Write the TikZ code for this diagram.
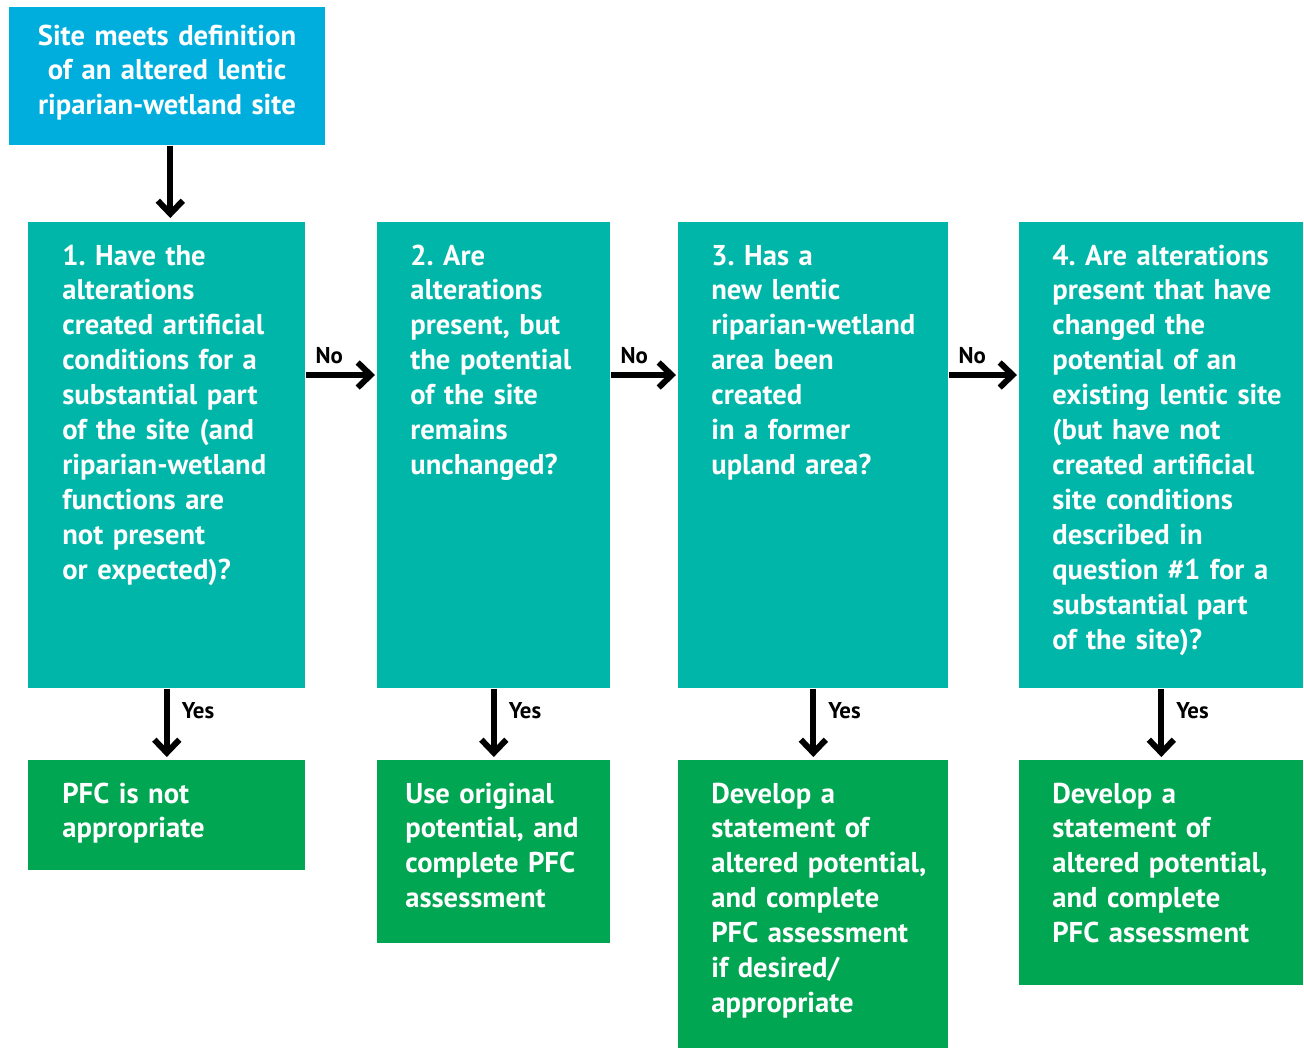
\documentclass[tikz,border=0pt]{standalone}
\usepackage{fontspec}
\setmainfont{PT Sans}
\usepackage{xcolor}
\usetikzlibrary{positioning,arrows.meta}
\definecolor{topblue}{RGB}{0,174,222}
\definecolor{qteal}{RGB}{0,182,168}
\definecolor{rgreen}{RGB}{0,166,81}
\frenchspacing

\begin{document}
\begin{tikzpicture}[x=0.02cm,y=-0.02cm]
\tikzstyle{every node}+=[inner sep=0pt]
\tikzstyle{box}=[anchor=north west, minimum width=5.54cm]
\tikzstyle{qbox}=[box, fill=qteal, minimum height=9.32cm]
\tikzstyle{rbox}=[box, fill=rgreen]
\tikzstyle{txt}=[anchor=base west, text=white, text width=6.2cm, align=left, font=\bfseries\fontsize{16.3pt}{19.9pt}\selectfont]
\tikzstyle{lbl}=[font=\bfseries\fontsize{13pt}{15pt}\selectfont, text=black]
\tikzstyle{arr}=[line width=3.4pt, -{Straight Barb[length=2.6mm,width=5mm]}]
\useasboundingbox (0,0) rectangle (1304,1049);
% boxes
\node [box, fill=topblue, minimum width=6.32cm, minimum height=2.76cm] (start) at (9,7) {};
\node [qbox] (q1) at (28,222) {};
\node [qbox, minimum width=4.66cm] (q2) at (377,222) {};
\node [qbox, minimum width=5.40cm] (q3) at (678,222) {};
\node [qbox, minimum width=5.68cm] (q4) at (1019,222) {};
\node [rbox, minimum height=2.2cm] (r1) at (28,760) {};
\node [rbox, minimum width=4.66cm, minimum height=3.66cm] (r2) at (377,760) {};
\node [rbox, minimum width=5.40cm, minimum height=5.76cm] (r3) at (678,760) {};
\node [rbox, minimum width=5.68cm, minimum height=4.5cm] (r4) at (1019,760) {};
% texts
\node [txt, anchor=base, align=center] (startt) at (167,45) {Site meets definition\\of an altered lentic\\riparian-wetland site};
\node [txt] (q1t) at (62,265) {1. Have the\\alterations\\created artificial\\conditions for a\\substantial part\\of the site (and\\riparian-wetland\\functions are\\not present\\or expected)?};
\node [txt] (q2t) at (410,265) {2. Are\\alterations\\present, but\\the potential\\of the site\\remains\\unchanged?};
\node [txt] (q3t) at (711,265) {3. Has a\\new lentic\\riparian-wetland\\area been\\created\\in a former\\upland area?};
\node [txt] (q4t) at (1052,265) {4. Are alterations\\present that have\\changed the\\potential of an\\existing lentic site\\(but have not\\created artificial\\site conditions\\described in\\question \#1 for a\\substantial part\\of the site)?};
\node [txt] (r1t) at (62,803) {PFC is not\\appropriate};
\node [txt] (r2t) at (405,803) {Use original\\potential, and\\complete PFC\\assessment};
\node [txt] (r3t) at (711,803) {Develop a\\statement of\\altered potential,\\and complete\\PFC assessment\\if desired/\\appropriate};
\node [txt] (r4t) at (1052,803) {Develop a\\statement of\\altered potential,\\and complete\\PFC assessment};
% arrows
\coordinate (nol) at (0,375);
\draw [arr, shorten >=0.08cm] ([xshift=0.06cm]start.south) -- ([xshift=0.06cm]start.south |- q1.north);
\foreach \a/\b in {q1/q2,q2/q3,q3/q4}
  \draw [arr, shorten >=0.04cm] (\a.east |- nol) -- (\b.west |- nol)
    node [lbl, pos=0, anchor=base west, xshift=0.14cm, yshift=0.24cm] {No};
\foreach \a/\b in {q1/r1,q2/r2,q3/r3,q4/r4}
  \draw [arr, shorten >=0.06cm] (\a.south) -- (\b.north)
    node [lbl, pos=0, anchor=base west, xshift=0.24cm, yshift=-0.6cm] {Yes};
\end{tikzpicture}
\end{document}
